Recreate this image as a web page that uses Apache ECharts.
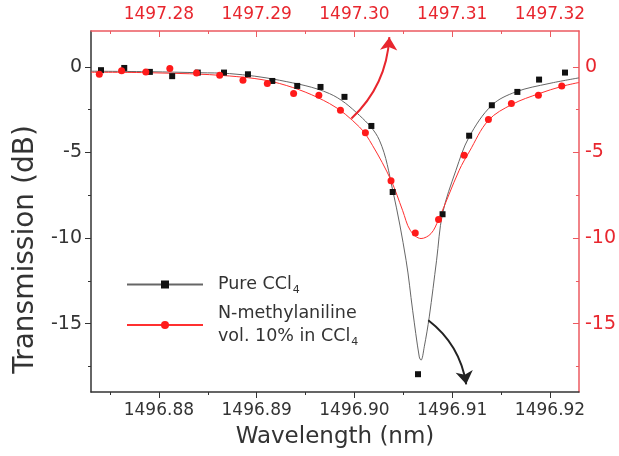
<!DOCTYPE html>
<html>
<head>
<meta charset="utf-8">
<script src="https://cdn.jsdelivr.net/npm/echarts@6/dist/echarts.min.js"></script>
<style>html,body{margin:0;padding:0;background:#fff}#c{width:619px;height:456px}</style>
</head>
<body>
<div id="c"></div>
<script>
// ---- data ----
const xRange = [1496.87306, 1496.92296];
const topOffset = 0.40; // top axis = bottom axis + 0.40 nm
const yRange = [-19.0, 2.1];
const bottomMajorTicks = [1496.88, 1496.89, 1496.90, 1496.91, 1496.92];
const bottomMinorTicks = [1496.875, 1496.885, 1496.895, 1496.905, 1496.915];
const topMajorTicks = [1497.28, 1497.29, 1497.30, 1497.31, 1497.32];
const topMinorTicks = [1497.275, 1497.285, 1497.295, 1497.305, 1497.315];
const yMajorTicks = [0, -5, -10, -15];
const yMinorTicks = [-2.5, -7.5, -12.5, -17.5];

const pureX = [1496.87408, 1496.87646, 1496.87908, 1496.88136, 1496.88398, 1496.88666, 1496.88911, 1496.89160, 1496.89415, 1496.89653, 1496.89898, 1496.90173, 1496.90391, 1496.90650, 1496.90901, 1496.91173, 1496.91405, 1496.91666, 1496.91888, 1496.92153];
const pureY = [-0.19, -0.06, -0.29, -0.54, -0.33, -0.33, -0.43, -0.82, -1.11, -1.17, -1.75, -3.45, -7.31, -17.96, -8.61, -4.02, -2.24, -1.46, -0.74, -0.33];

const nmaX = [1496.87391, 1496.87619, 1496.87867, 1496.88112, 1496.88385, 1496.88622, 1496.88860, 1496.89109, 1496.89378, 1496.89636, 1496.89857, 1496.90112, 1496.90374, 1496.90622, 1496.90860, 1496.91122, 1496.91370, 1496.91605, 1496.91881, 1496.92120];
const nmaY = [-0.43, -0.23, -0.29, -0.09, -0.35, -0.49, -0.78, -0.97, -1.55, -1.65, -2.53, -3.85, -6.66, -9.70, -8.92, -5.16, -3.07, -2.14, -1.65, -1.11];

const pureFitX = [1496.87306, 1496.87908, 1496.88418, 1496.88724, 1496.89235, 1496.89745, 1496.90051, 1496.90255, 1496.90391, 1496.90528, 1496.90595, 1496.90663, 1496.90681, 1496.90714, 1496.90765, 1496.90840, 1496.90901, 1496.91038, 1496.91173, 1496.91405, 1496.91650, 1496.91990, 1496.92296];
const pureFitY = [-0.25, -0.28, -0.34, -0.39, -0.78, -1.56, -2.83, -4.28, -7.2, -11.3, -14.22, -16.95, -17.14, -16.36, -14.61, -11.3, -8.57, -6.04, -4.09, -2.24, -1.46, -0.97, -0.64];

const nmaFitX = [1496.87306, 1496.87908, 1496.88724, 1496.89235, 1496.89745, 1496.90051, 1496.90184, 1496.90374, 1496.90492, 1496.90571, 1496.90681, 1496.90783, 1496.90860, 1496.91071, 1496.91173, 1496.91370, 1496.91615, 1496.91888, 1496.92126, 1496.92296];
const nmaFitY = [-0.31, -0.34, -0.53, -0.97, -2.14, -3.51, -4.58, -6.62, -8.38, -9.55, -10.03, -9.74, -8.92, -6.04, -4.97, -3.12, -2.18, -1.56, -1.13, -0.91];

const seriesNames = ['Pure CCl4', 'N-methylaniline\nvol. 10% in CCl4'];
const legendLabels = ['Pure CCl{sub|4}', 'N-methylaniline\nvol. 10% in CCl{sub|4}'];

// annotation arrows (data coordinates)
const redArrow = [[1496.89969, -3.02], [1496.90357, 1.74]];
const blackArrow = [[1496.90755, -14.81], [1496.91143, -18.55]];

// ---- styles ----
const RED = '#e8262e';
const RED_AXIS = '#ec5a60';
const DARK = '#333333';
const FONT = 'DejaVu Sans, sans-serif';

const zip = (a, b) => a.map((v, i) => [v, b[i]]);
const fmt2 = v => v.toFixed(2);

const chart = echarts.init(document.getElementById('c'), null, {renderer: 'canvas'});

const baseX = {type: 'value', min: xRange[0], max: xRange[1], splitLine: {show: false}};
const baseY = {type: 'value', min: yRange[0], max: yRange[1], splitLine: {show: false}};

chart.setOption({
  animation: false,
  backgroundColor: '#fff',
  grid: {left: 91, right: 38, top: 31, bottom: 64, containLabel: false},
  xAxis: [
    Object.assign({}, baseX, {
      position: 'bottom',
      axisLine: {show: true, onZero: false, lineStyle: {color: DARK, width: 1.5}},
      axisTick: {show: true, inside: false, length: 6, customValues: bottomMajorTicks, lineStyle: {color: DARK}},
      axisLabel: {show: true, customValues: bottomMajorTicks, formatter: fmt2, fontSize: 17, color: DARK, margin: 10, fontFamily: FONT},
      name: 'Wavelength (nm)', nameLocation: 'middle', nameGap: 34,
      nameTextStyle: {fontSize: 23, color: DARK, fontFamily: FONT}
    }),
    Object.assign({}, baseX, {
      position: 'bottom',
      axisLine: {show: false, onZero: false},
      axisTick: {show: true, inside: false, length: 3, customValues: bottomMinorTicks, lineStyle: {color: DARK}},
      axisLabel: {show: false}
    }),
    {
      type: 'value', position: 'top', min: xRange[0] + topOffset, max: xRange[1] + topOffset, splitLine: {show: false},
      axisLine: {show: true, onZero: false, lineStyle: {color: RED_AXIS, width: 1.5}},
      axisTick: {show: true, inside: true, length: 6, customValues: topMajorTicks, lineStyle: {color: RED_AXIS}},
      axisLabel: {show: true, customValues: topMajorTicks, formatter: fmt2, fontSize: 17, color: RED, margin: 8, fontFamily: FONT}
    },
    {
      type: 'value', position: 'top', min: xRange[0] + topOffset, max: xRange[1] + topOffset, splitLine: {show: false},
      axisLine: {show: false, onZero: false},
      axisTick: {show: true, inside: true, length: 3, customValues: topMinorTicks, lineStyle: {color: RED_AXIS}},
      axisLabel: {show: false}
    }
  ],
  yAxis: [
    Object.assign({}, baseY, {
      position: 'left',
      axisLine: {show: true, onZero: false, lineStyle: {color: DARK, width: 1.5}},
      axisTick: {show: true, inside: false, length: 6, customValues: yMajorTicks, lineStyle: {color: DARK}},
      axisLabel: {show: true, customValues: yMajorTicks, fontSize: 19, color: DARK, margin: 9, fontFamily: FONT},
      name: 'Transmission (dB)', nameLocation: 'middle', nameGap: 50, nameRotate: 90,
      nameTextStyle: {fontSize: 28, color: DARK, fontFamily: FONT, padding: [0, 76, 0, 0]}
    }),
    Object.assign({}, baseY, {
      position: 'left',
      axisLine: {show: false, onZero: false},
      axisTick: {show: true, inside: false, length: 3, customValues: yMinorTicks, lineStyle: {color: DARK}},
      axisLabel: {show: false}
    }),
    Object.assign({}, baseY, {
      position: 'right',
      axisLine: {show: true, onZero: false, lineStyle: {color: RED_AXIS, width: 1.5}},
      axisTick: {show: true, inside: true, length: 6, customValues: yMajorTicks, lineStyle: {color: RED_AXIS}},
      axisLabel: {show: true, customValues: yMajorTicks, fontSize: 19, color: RED, margin: 6, fontFamily: FONT}
    }),
    Object.assign({}, baseY, {
      position: 'right',
      axisLine: {show: false, onZero: false},
      axisTick: {show: true, inside: true, length: 3, customValues: yMinorTicks, lineStyle: {color: RED_AXIS}},
      axisLabel: {show: false}
    })
  ],
  legend: {
    orient: 'vertical', left: 121, top: 268,
    itemWidth: 76, itemHeight: 10, itemGap: 6,
    data: [{name: seriesNames[0]}, {name: seriesNames[1]}],
    formatter: name => legendLabels[seriesNames.indexOf(name)],
    textStyle: {
      fontSize: 17.5, color: DARK, fontFamily: FONT, lineHeight: 23, padding: [0, 0, 0, 10],
      rich: {sub: {fontSize: 11, color: DARK, fontFamily: FONT, verticalAlign: 'bottom', padding: [12, 0, 0, 1]}}
    }
  },
  series: [
    {
      name: seriesNames[0], type: 'line', xAxisIndex: 0, yAxisIndex: 0,
      data: zip(pureFitX, pureFitY), smooth: 0.35, showSymbol: false, symbol: 'rect', symbolSize: 7,
      itemStyle: {color: '#111'}, lineStyle: {color: '#666', width: 1}, z: 2
    },
    {
      name: seriesNames[1], type: 'line', xAxisIndex: 0, yAxisIndex: 0,
      data: zip(nmaFitX, nmaFitY), smooth: 0.35, showSymbol: false, symbol: 'circle', symbolSize: 8,
      itemStyle: {color: '#ff1a1a'}, lineStyle: {color: '#ff3030', width: 1}, z: 2
    },
    {
      name: seriesNames[0], type: 'scatter', xAxisIndex: 0, yAxisIndex: 0,
      data: zip(pureX, pureY), symbol: 'rect', symbolSize: 6,
      itemStyle: {color: '#111', opacity: 1}, z: 3
    },
    {
      name: seriesNames[1], type: 'scatter', xAxisIndex: 0, yAxisIndex: 0,
      data: zip(nmaX, nmaY), symbol: 'circle', symbolSize: 7,
      itemStyle: {color: '#ff1a1a', opacity: 1}, z: 4
    },
    {
      type: 'lines', coordinateSystem: 'cartesian2d', xAxisIndex: 0, yAxisIndex: 0,
      symbol: ['none', 'arrow'], symbolSize: [9, 13], silent: true,
      data: [
        {coords: redArrow, lineStyle: {color: RED, width: 2, opacity: 1, curveness: -0.2}},
        {coords: blackArrow, lineStyle: {color: '#222', width: 2, opacity: 1, curveness: 0.2}}
      ],
      z: 5
    }
  ]
});
</script>
</body>
</html>
